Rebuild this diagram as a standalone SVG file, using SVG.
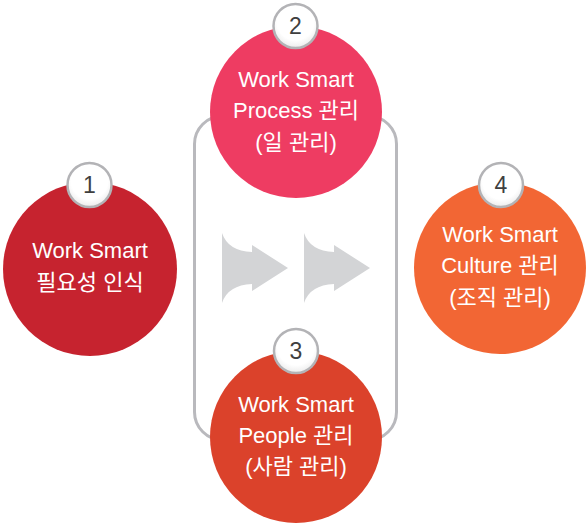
<svg xmlns="http://www.w3.org/2000/svg" width="586" height="524" viewBox="0 0 586 524">
<defs>
<style>
.lbl{font-family:"Liberation Sans","Noto Sans CJK KR",sans-serif;font-size:22px;fill:#ffffff;text-anchor:middle;}
.num{font-family:"Liberation Sans","Noto Sans CJK KR",sans-serif;font-size:23px;fill:#3f3f3f;text-anchor:middle;}
.badge{stroke:#b3b3b6;stroke-width:2.5;}
.arrow{fill:#d3d4d6;}
</style>
<radialGradient id="bg" cx="0.5" cy="0.4" r="0.6">
<stop offset="0.7" stop-color="#ffffff"/>
<stop offset="1" stop-color="#ececec"/>
</radialGradient>
</defs>
<rect width="586" height="524" fill="#ffffff"/>
<g id="frame">
<rect x="194.5" y="116" width="202" height="324" rx="28" ry="28" fill="none" stroke="#b9b9bd" stroke-width="3"/>
</g>
<g id="connectors">
<path class="arrow" d="M222,233 Q228,251 252,252 L252,245 L288,268 L252,291 L252,284 Q228,285 222,303 Z"/>
<path class="arrow" d="M304,233 Q310,251 334,252 L334,245 L370,268 L334,291 L334,284 Q310,285 304,303 Z"/>
</g>
<g id="node1">
<circle cx="90" cy="269" r="87" fill="#c6232f"/>
<text class="lbl" x="90" y="258">Work Smart</text>
<text class="lbl" x="90" y="290">필요성 인식</text>
<circle class="badge" cx="89.5" cy="185" r="22" fill="url(#bg)"/>
<text class="num" x="89.5" y="193">1</text>
</g>
<g id="node2">
<circle cx="296" cy="112" r="86" fill="#ee3c62"/>
<text class="lbl" x="296" y="87">Work Smart</text>
<text class="lbl" x="296" y="118">Process 관리</text>
<text class="lbl" x="296" y="150">(일 관리)</text>
<circle class="badge" cx="295.5" cy="26" r="22" fill="url(#bg)"/>
<text class="num" x="295.5" y="34">2</text>
</g>
<g id="node3">
<circle cx="296" cy="437" r="86" fill="#db422b"/>
<text class="lbl" x="296" y="412">Work Smart</text>
<text class="lbl" x="296" y="443">People 관리</text>
<text class="lbl" x="296" y="474">(사람 관리)</text>
<circle class="badge" cx="296" cy="351" r="22" fill="url(#bg)"/>
<text class="num" x="296" y="359">3</text>
</g>
<g id="node4">
<circle cx="500" cy="268" r="86" fill="#f26634"/>
<text class="lbl" x="500" y="242">Work Smart</text>
<text class="lbl" x="500" y="273">Culture 관리</text>
<text class="lbl" x="500" y="305">(조직 관리)</text>
<circle class="badge" cx="501" cy="185" r="22" fill="url(#bg)"/>
<text class="num" x="501" y="193">4</text>
</g>
</svg>
